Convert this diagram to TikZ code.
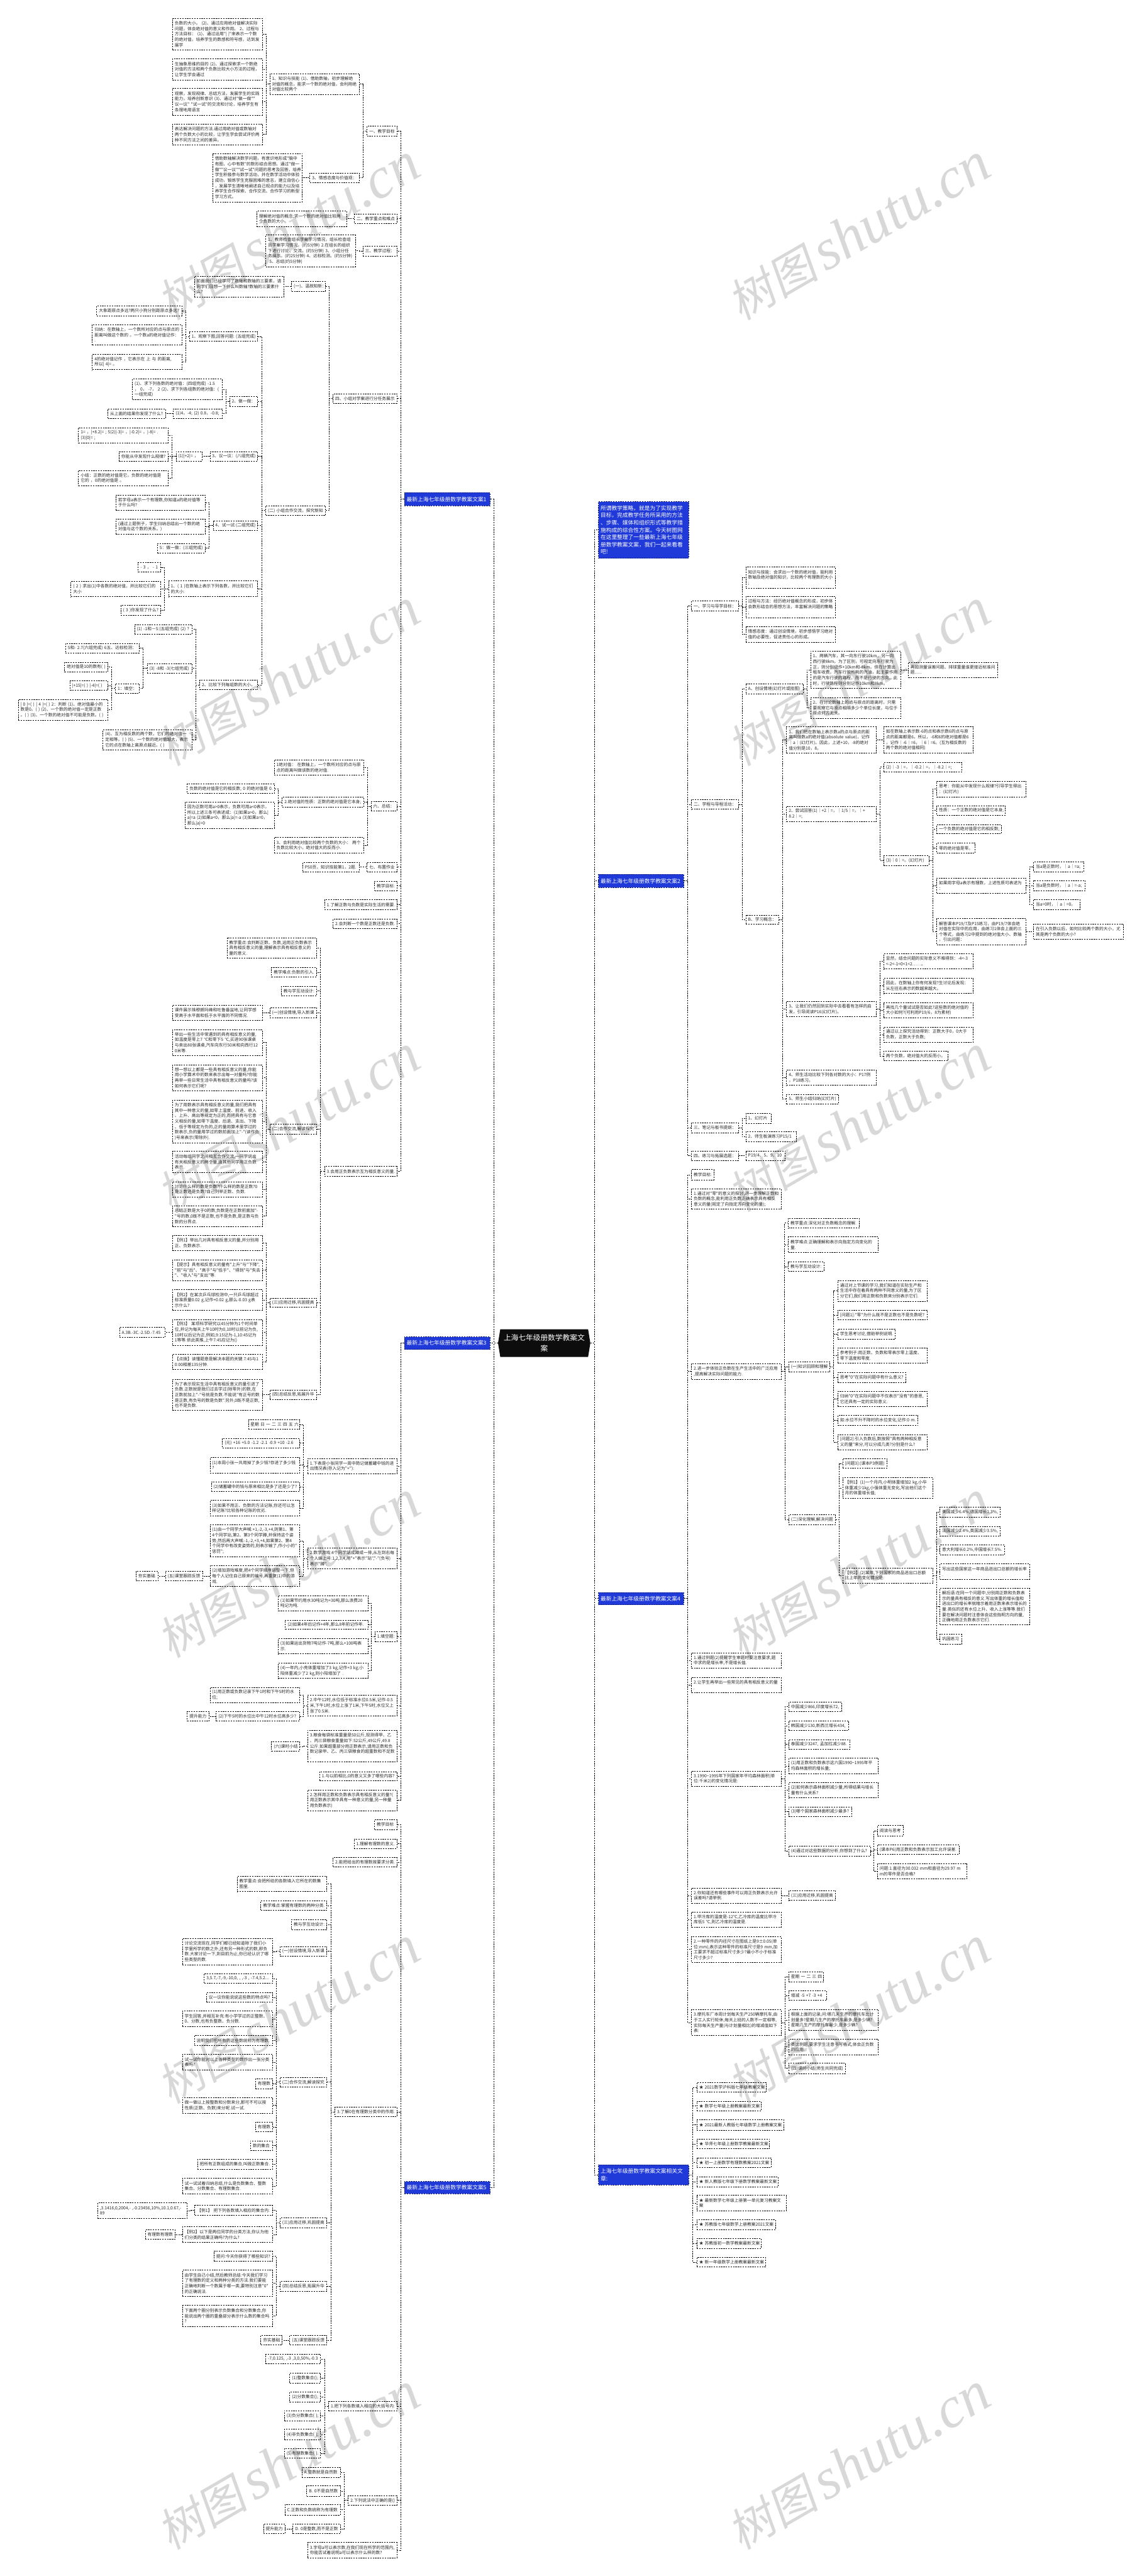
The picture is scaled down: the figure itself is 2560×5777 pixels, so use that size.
\documentclass[tikz,border=0pt]{standalone}
\usepackage{fontspec}
\usetikzlibrary{calc}
\setmainfont{Noto Sans CJK SC}[Ligatures=TeXOff]
\newfontfamily\wmcjk[FakeSlant=0.18]{Noto Sans CJK SC}
\newfontfamily\wmlat{Liberation Serif}
\definecolor{nodeblue}{HTML}{203AD9}
\definecolor{nodeedge}{HTML}{141F7A}
\definecolor{inkc}{HTML}{262626}
\definecolor{wmgray}{HTML}{D8D8D8}
\newcommand{\smallfnt}{\fontsize{9.5}{12.2}\selectfont}
\newcommand{\bluefnt}{\fontsize{12.3}{16.4}\selectfont}
\newcommand{\rootfnt}{\fontsize{16.5}{23}\selectfont}
\tikzset{
  bxs/.style={draw=black,line width=1.1pt,dash pattern=on 3.2pt off 2.2pt,text=inkc,inner xsep=5pt,inner ysep=0pt,align=left,font=\smallfnt},
  bluebx/.style={fill=nodeblue,draw=nodeedge,line width=1.1pt,dash pattern=on 3.2pt off 2.2pt,text=white,inner xsep=5pt,inner ysep=0pt,align=left,font=\bluefnt},
  cnline/.style={draw=black,line width=1.1pt,dash pattern=on 3.2pt off 2.2pt},
  rootlabel/.style={text=white,align=center,inner sep=0pt,font=\rootfnt},
  wmark/.style={text=wmgray,rotate=30,inner sep=0pt,anchor=center}
}
\newcommand{\bxgeom}[4]{%
  \pgfmathsetmacro\bxcx{(#1+#3)/2}\pgfmathsetmacro\bxcy{(#2+#4)/2}%
  \pgfmathsetmacro\bxw{#3-#1}\pgfmathsetmacro\bxh{#4-#2}%
  \pgfmathsetmacro\bxt{#3-#1-10}}
% left side box: name, parent, x1,y1,x2,y2, text
\newcommand{\bl}[7]{\bxgeom{#3}{#4}{#5}{#6}%
  \node[bxs,minimum width=\bxw pt,minimum height=\bxh pt,text width=\bxt pt] (#1) at (\bxcx,\bxcy) {#7};
  \draw[cnline] (#2.west) -- ($(#2.west)!.5!(#2.west -| #1.east)$) |- (#1.east);}
% right side box
\newcommand{\br}[7]{\bxgeom{#3}{#4}{#5}{#6}%
  \node[bxs,minimum width=\bxw pt,minimum height=\bxh pt,text width=\bxt pt] (#1) at (\bxcx,\bxcy) {#7};
  \draw[cnline] (#2.east) -- ($(#2.east)!.5!(#2.east -| #1.west)$) |- (#1.west);}
\newcommand{\blb}[6]{\bxgeom{#2}{#3}{#4}{#5}%
  \node[bluebx,minimum width=\bxw pt,minimum height=\bxh pt,text width=\bxt pt] (#1) at (\bxcx,\bxcy) {#6};
  \draw[cnline] (root.west) -- ($(root.west)!.5!(root.west -| #1.east)$) |- (#1.east);}
\newcommand{\brb}[6]{\bxgeom{#2}{#3}{#4}{#5}%
  \node[bluebx,minimum width=\bxw pt,minimum height=\bxh pt,text width=\bxt pt] (#1) at (\bxcx,\bxcy) {#6};
  \draw[cnline] (root.east) -- ($(root.east)!.5!(root.east -| #1.west)$) |- (#1.west);}
\hyphenpenalty=10000
\exhyphenpenalty=10000
\begin{document}
\begin{tikzpicture}[x=1pt,y=-1pt]
\useasboundingbox (0,0) rectangle (2560,5777);
% watermark tiles
\foreach \wx/\wn in {646/a,1926/b}{\foreach \wy/\wk in {520/1,1520/2,2520/3,3520/4,4520/5,5520/6}{
  \node[wmark] (wm\wn\wk) at (\wx,\wy) {\fontsize{102}{120}\selectfont\wmcjk 树图\hspace{15pt}\fontsize{130}{140}\selectfont\wmlat\itshape shutu.cn};
}}
% root
\fill[black!95] (1117,3012)--(1122,2981)--(1319,2981)--(1324,3012)--(1319,3043)--(1122,3043)--cycle;
\node[rootlabel,minimum width=207pt,minimum height=62pt] (root) at (1220.5,3012) {上海七年级册数学教案文\\案};

% ===== LEFT: 文案1
\blb{c1}{907}{1105}{1099}{1134}{最新上海七年级册数学教案文案1}
\bl{a1}{c1}{823}{283}{890}{305}{一、教学目标}
\bl{a11}{a1}{605}{165}{806}{212}{1、知识与技能~(1)、借助数轴，初步理解绝\\对值的概念，能求一个数的绝对值，会利用绝\\对值比较两个}
\bl{a111}{a11}{387}{41}{588}{112}{负数的大小。~(2)、通过应用绝对值解决实际\\问题，体会绝对值的意义和作用。~2、过程与\\方法目标：~(1)、通过运用"|~|"来表示一个数\\的绝对值，培养学生的数感和符号感，达到发\\展学}
\bl{a112}{a11}{387}{132}{588}{179}{生抽象思维的目的~(2)、通过探索求一个数绝\\对值的方法和两个负数比较大小方法的过程，\\让学生学会通过}
\bl{a113}{a11}{387}{198}{588}{258}{观察，发现规律、总结方法，发展学生的实践\\能力，培养创新意识~(3)、通过对"做一做""\\议一议"~"试一试"的交流和讨论，培养学生有\\条理地用语言}
\bl{a114}{a11}{387}{278}{588}{325}{表达解决问题的方法.通过用绝对值或数轴对\\两个负数大小的比较，让学生学会尝试评价两\\种不同方法之间的差异。}
\bl{a12}{a1}{695}{388}{806}{409}{3、情感态度与价值观：}
\bl{a121}{a12}{477}{344}{678}{453}{借助数轴解决数学问题，有意识地形成"脑中\\有图，心中有数"的数形结合思想。通过"做一\\做""议一议""试一试"问题的思考及回答，培养\\学生积极参与数学活动，并在数学活动中体验\\成功，锻炼学生克服困难的意志，建立自信心\\，发展学生清晰地阐述自己观点的能力以及培\\养学生合作探索、合作交流、合作学习的新型\\学习方式。}
\bl{a2}{c1}{795}{480}{890}{501}{二、教学重点和难点}
\bl{a21}{a2}{576}{473}{777}{508}{理解绝对值的概念;求一个数的绝对值比较两\\个负数的大小。}
\bl{a3}{c1}{814}{552}{890}{574}{三、教学过程：}
\bl{a31}{a3}{596}{527}{797}{598}{1、教师检查组长学案学习情况，组长检查组\\员学案学习情况。(约5分钟)~2.在组长的组织\\下进行讨论、交流。(约5分钟)~3、小组分任\\务展示。(约25分钟)~4、达标检测。(约5分钟)\\~5、总结(约5分钟)}
\bl{a4}{c1}{747}{883}{890}{904}{四、小组对学案进行分任务展示}
\bl{a41}{a4}{654}{631}{730}{653}{(一)、温故知新：}
\bl{a411}{a41}{436}{619}{636}{666}{前面我们已经学习了数轴和数轴的三要素，请\\同学们回想一下什么叫数轴?数轴的三要素什\\么?}
\bl{a42}{a4}{596}{1134}{730}{1156}{(二)~小组合作交流，探究新知}
\bl{b1}{a42}{425}{744}{578}{765}{1、观察下图,回答问题:~(五组完成)}
\bl{b11}{b1}{217}{686}{408}{708}{大象距原点多远?两只小狗分别距原点多远?}
\bl{b12}{b1}{207}{728}{408}{774}{归纳：在数轴上，一个数所对应的点与原点的\\距离叫做这个数的~。一个数a的绝对值记作：\\.}
\bl{b13}{b1}{207}{795}{408}{829}{4的绝对值记作~，它表示在~上~与~的距离,\\所以|~4|=~。}
\bl{b2}{a42}{515}{889}{578}{911}{2、做一做：}
\bl{b21}{b2}{297}{850}{498}{896}{(1)、求下列各数的绝对值：(四组完成)~-1.5\\，~0，~-7，~2~(2)、求下列各组数的绝对值：(\\一组完成)}
\bl{b22}{b2}{389}{917}{498}{938}{(1)4，-4;~(2)~0.8，-0.8;}
\bl{b221}{b22}{242}{917}{371}{938}{从上面的结果你发现了什么?}
\bl{b3}{a42}{471}{1013}{578}{1034}{3、议一议：(八组完成)}
\bl{b31}{b3}{395}{1013}{453}{1034}{(1)|+2|=~，}
\bl{b311}{b31}{176}{959}{377}{993}{1=~，|+8.2|=~;~5(2)|-3|=~，|-0.2|=~，|-8|=~.\\(3)|0|=~;}
\bl{b312}{b31}{267}{1013}{377}{1034}{你能从中发现什么规律?}
\bl{b313}{b31}{176}{1055}{377}{1089}{小结：正数的绝对值是它，负数的绝对值是\\它的~，0的绝对值是~。}
\bl{b4}{a42}{478}{1168}{578}{1189}{4、试一试:(二组完成)}
\bl{b41}{b4}{260}{1110}{460}{1144}{若字母a表示一个有理数,你知道a的绝对值等\\于什么吗?}
\bl{b42}{b4}{260}{1164}{460}{1198}{(通过上题例子，学生归纳总结出一个数的绝\\对值与这个数的关系。)}
\bl{b43}{b4}{353}{1219}{460}{1240}{5：做一做：(三组完成)}
\bl{b5}{a42}{378}{1303}{578}{1338}{1、(~1~)在数轴上表示下列各数，并比较它们\\的大小:}
\bl{b51}{b5}{310}{1262}{360}{1283}{-~3~，~-~1}
\bl{b52}{b5}{159}{1304}{360}{1338}{(~2~)~求出(1)中各数的绝对值，并比较它们的\\大小}
\bl{b53}{b5}{271}{1358}{360}{1380}{(~3~)你发现了什么?}
\bl{b6}{a42}{448}{1525}{578}{1547}{2、比较下列每组数的大小。}
\bl{b61}{b6}{302}{1401}{431}{1422}{(1)~-1和－5:(五组完成)~(2)~?}
\bl{b62}{b6}{330}{1488}{431}{1510}{(3)~-8和~-3(七组完成)}
\bl{b621}{b62}{147}{1443}{312}{1464}{5和-~2.7(六组完成)~6五、达标检测：}
\bl{b622}{b62}{259}{1533}{312}{1555}{1：填空：}
\bl{b6221}{b622}{145}{1485}{242}{1507}{绝对值是10的数有(~)}
\bl{b6222}{b622}{157}{1527}{242}{1548}{|+15|=(~)~|-4|=(~)}
\bl{b6223}{b622}{41}{1569}{242}{1615}{|~0~|=(~)~|~4~|=(~)~2：判断~(1)、绝对值最小的\\数是0。(~)~(2)、一个数的绝对值一定是正数\\。(~)~(3)、一个数的绝对值不可能是负数。(~)}
\bl{b63}{b6}{231}{1636}{431}{1682}{(4)、互为相反数的两个数，它们的绝对值一\\定相等。(~)~(5)、一个数的绝对值越大，表示\\它的点在数轴上离原点越近。(~)}
\bl{a6}{c1}{832}{1797}{890}{1819}{六、总结：}
\bl{a61}{a6}{615}{1704}{816}{1738}{1绝对值：~在数轴上，一个数所对应的点与原\\点的距离叫做该数的绝对值.}
\bl{a62}{a6}{633}{1788}{816}{1810}{2.绝对值的性质：正数的绝对值是它本身;}
\bl{a621}{a62}{420}{1758}{615}{1779}{负数的绝对值是它的相反数;~0~的绝对值是~0.}
\bl{a622}{a62}{415}{1799}{615}{1858}{因为正数可用a>0表示，负数可用a<0表示，\\所以上述三条可表述成：(1)如果a>0，那么|\\a|=a~(2)如果a<0，那么|a|=-a~(3)如果a=0，\\那么|a|=0}
\bl{a63}{a6}{615}{1878}{816}{1913}{3、会利用绝对值比较两个负数的大小：~两个\\负数比较大小，绝对值大的反而小.}
\bl{a7}{c1}{823}{1934}{890}{1955}{七、布置作业}
\bl{a71}{a7}{679}{1934}{806}{1955}{P50页，知识技能第1，2题.}
\bl{a8}{c1}{840}{1976}{890}{1997}{教学目标:}
\bl{a9}{c1}{728}{2018}{890}{2040}{1.了解正数与负数是实际生活的需要.}
\bl{a10}{c1}{747}{2061}{890}{2082}{2.会判断一个数是正数还是负数.}
\bl{d}{c1}{728}{2616}{890}{2638}{3.会用正负数表示互为相反意义的量.}
\bl{d1}{d}{509}{2103}{710}{2149}{教学重点:会判断正数、负数,运用正负数表示\\具有相反意义的量,理解表示具有相反意义的\\量的意义.}
\bl{d2}{d}{609}{2170}{710}{2191}{教学难点:负数的引入.}
\bl{d3}{d}{631}{2212}{710}{2233}{教与学互动设计:}
\bl{d4}{d}{605}{2260}{710}{2282}{(一)创设情境,导入新课}
\bl{d41}{d4}{387}{2254}{588}{2288}{课件展示珠穆朗玛峰和吐鲁番盆地,让同学感\\受高于水平面和低于水平面的不同情况.}
\bl{d5}{d}{605}{2521}{710}{2543}{(二)合作交流,解读探究}
\bl{d51}{d5}{387}{2309}{588}{2367}{举出一些生活中常遇到的具有相反意义的量,\\如温度是零上7~℃和零下5~℃,买进90张课桌\\与卖出80张课桌,汽车向东行50米和向西行12\\0米等.}
\bl{d52}{d5}{387}{2388}{588}{2446}{想一想以上都是一些具有相反意义的量,你能\\用小学算术中的数来表示出每一对量吗?你能\\再举一些日常生活中具有相反意义的量吗?该\\如何表示它们呢?}
\bl{d53}{d5}{387}{2467}{588}{2563}{为了用数表示具有相反意义的量,我们把具有\\其中一种意义的量,如零上温度、前进、收入\\、上升、高出等规定为正的,而把具有与它意\\义相反的量,如零下温度、后退、支出、下降\\、低于等规定为负的,正的量用算术里学过的\\数表示,负的量用学过的数前面加上"-"(读作负\\)号来表示(零除外).}
\bl{d54}{d5}{387}{2582}{588}{2630}{活动每组同学之间相互合作交流,一同学说出\\有关相反意义的两个量,由其他同学用正负数\\表示.}
\bl{d55}{d5}{387}{2650}{588}{2684}{讨论什么样的数是负数?什么样的数是正数?0\\是正数还是负数?自己列举正数、负数.}
\bl{d56}{d5}{387}{2704}{588}{2751}{总结正数是大于0的数,负数是在正数前面加"-\\"号的数,0既不是正数,也不是负数,是正数与负\\数的分界点.}
\bl{d6}{d}{605}{2911}{710}{2932}{(三)应用迁移,巩固提高}
\bl{d61}{d6}{387}{2770}{588}{2805}{【例1】举出几对具有相反意义的量,并分别用\\正、负数表示.}
\bl{d62}{d6}{387}{2825}{588}{2872}{【提示】具有相反意义的量有"上升"与"下降",\\"前"与"后"、"高于"与"低于"、"得到"与"失去\\"、"收入"与"支出"等.}
\bl{d63}{d6}{387}{2892}{588}{2939}{【例2】在某次乒乓球检测中,一只乒乓球超过\\标准质量0.02~g,记作+0.02~g,那么-0.03~g表\\示什么?}
\bl{d64}{d6}{387}{2959}{588}{3017}{【例3】~某项科学研究以45分钟为1个时间单\\位,并记为每天上午10时为0,10时以前记为负,\\10时以后记为正,例如,9:15记为-1,10:45记为\\1等等.依此类推,上午7:45应记为()}
\bl{d641}{d64}{268}{2977}{370}{2999}{A.3B.-3C.-2.5D.-7.45}
\bl{d65}{d6}{387}{3037}{588}{3071}{【点拨】读懂题意是解决本题的关键.7:45与1\\0:00相差135分钟.}
\bl{d7}{d}{605}{3117}{710}{3138}{(四)总结反思,拓展升华}
\bl{d71}{d7}{387}{3093}{588}{3163}{为了表示现实生活中具有相反意义的量引进了\\负数.正数就是我们过去学过(除零外)的数,在\\正数前加上"-"号就是负数.不能说"有正号的数\\是正数,有负号的数是负数".另外,0既不是正数,\\也不是负数.}

% ===== LEFT: 文案3
\blb{c3}{907}{2998}{1099}{3026}{最新上海七年级册数学教案文案3}
\bl{e1}{c3}{690}{3271}{890}{3305}{1.下表是小张同学一周中简记储蓄罐中钱的进\\出情况表(存入记为"+"):}
\bl{e11}{e1}{557}{3184}{672}{3205}{星期~日~一~二~三~四~五~六}
\bl{e12}{e1}{499}{3226}{672}{3247}{(元)~+16~+5.0~-1.2~-2.1~-0.9~+10~-2.6}
\bl{e13}{e1}{471}{3269}{672}{3303}{(1)本周小张一共用掉了多少钱?存进了多少钱\\?}
\bl{e14}{e1}{474}{3323}{672}{3345}{(2)储蓄罐中的钱与原来相比是多了还是少了?}
\bl{e15}{e1}{471}{3365}{672}{3399}{(3)如果不用正、负数的方法记账,你还可以怎\\样记账?比较各种记账的优劣.}
\bl{e2}{c3}{690}{3472}{890}{3518}{2.数学游戏:4个同学站成蹲成一排,从左到右每\\个人编上号:1,2,3,4,用"+"表示"站","-"(负号)\\表示"蹲".}
\bl{e21}{e2}{471}{3420}{672}{3491}{(1)由一个同学大声喊:+1,-2,-3,+4,则第1、第\\4个同学站,第2、第3个同学蹲,并保持这个姿\\势,然后再大声喊:-1,-2,+3,+4,如果第2、第4\\个同学中有改变姿势的,则表示输了,作小小的"\\惩罚";}
\bl{e22}{e2}{471}{3511}{672}{3558}{(2)增加游戏难度,把4个同学顺序调整一下,但\\每个人记住自己原来的编号,再重复(1)中的游\\戏.}
\bl{e221}{e22}{371}{3524}{454}{3545}{(五)课堂跟踪反馈}
\bl{e2211}{e221}{305}{3524}{354}{3545}{夯实基础}
\bl{e3}{c3}{841}{3659}{890}{3681}{1.填空题:}
\bl{e31}{e3}{624}{3578}{825}{3612}{(1)如果节约用水30吨记为+30吨,那么浪费20\\吨记为吨.}
\bl{e32}{e3}{640}{3633}{825}{3654}{(2)如果4年后记作+4年,那么8年前记作年.}
\bl{e33}{e3}{624}{3675}{825}{3709}{(3)如果运出货物7吨记作-7吨,那么+100吨表\\示.}
\bl{e34}{e3}{624}{3730}{825}{3764}{(4)一年内,小亮体重增加了3~kg,记作+3~kg;小\\阳体重减少了2~kg,则小阳增加了~.}
\bl{e4}{c3}{690}{3802}{890}{3848}{2.中午12时,水位低于标准水位0.5米,记作-0.5\\米,下午1时,水位上涨了1米,下午5时,水位又上\\涨了0.5米.}
\bl{e41}{e4}{471}{3784}{672}{3818}{(1)用正数或负数记录下午1时和下午5时的水\\位;}
\bl{e42}{e4}{485}{3838}{672}{3860}{(2)下午5时的水位比中午12时水位高多少?}
\bl{e421}{e42}{420}{3838}{469}{3860}{提升能力}
\bl{e5}{c3}{690}{3880}{890}{3951}{3.粮食每袋标准重量是50公斤,现测得甲、乙\\、丙三袋粮食重量如下:52公斤,49公斤,49.8\\公斤.如果超重部分用正数表示,请用正数和负\\数记录甲、乙、丙三袋粮食的超重数和不足数\\.}
\bl{e51}{e5}{609}{3906}{672}{3927}{(六)课时小结}
\bl{e6}{c3}{717}{3973}{890}{3994}{1.与以前相比,0的意义又多了哪些内容?}
\bl{e7}{c3}{690}{4014}{890}{4061}{2.怎样用正数和负数表示具有相反意义的量?(\\用正数表示其中具有一种意义的量,另一种量\\用负数表示)}

% ===== LEFT: 文案5
\blb{c5}{907}{4892}{1099}{4920}{最新上海七年级册数学教案文案5}
\bl{f1}{c5}{840}{4081}{890}{4103}{教学目标}
\bl{f2}{c5}{794}{4124}{890}{4145}{1.理解有理数的意义.}
\bl{f3}{c5}{747}{4166}{890}{4187}{2.能把给出的有理数按要求分类.}
\bl{f4}{c5}{751}{4726}{890}{4747}{3.了解0在有理数分类中的作用.}
\bl{f41}{f4}{532}{4208}{733}{4242}{教学重点:会把所给的各数填入它所在的数集\\图里.}
\bl{f42}{f4}{585}{4263}{733}{4284}{教学难点:掌握有理数的两种分类.}
\bl{f43}{f4}{654}{4305}{733}{4327}{教与学互动设计:}
\bl{f44}{f4}{628}{4365}{733}{4387}{(一)创设情境,导入新课}
\bl{f441}{f44}{409}{4347}{611}{4406}{讨论交流现在,同学们都已经知道除了我们小\\学里所学的数之外,还有另一种形式的数,即负\\数.大家讨论一下,到目前为止,你已经认识了哪\\些类型的数.}
\bl{f45}{f4}{628}{4659}{733}{4680}{(二)合作交流,解读探究}
\bl{f451}{f45}{458}{4426}{611}{4448}{3,5.7,-7,-9,-10,0,~,~,-3~,~-7.4,5.2...}
\bl{f452}{f45}{463}{4469}{611}{4490}{议一议你能说说这些数的特点吗?}
\bl{f453}{f45}{409}{4510}{611}{4545}{学生回答,并相互补充:有小学学过的正整数、\\0、分数,也有负整数、负分数.}
\bl{f454}{f45}{436}{4565}{611}{4587}{说明我们把所有的这些数统称为有理数.}
\bl{f455}{f45}{409}{4607}{611}{4642}{试一试你能对以上各种类型的数作出一张分类\\表吗?}
\bl{f456}{f45}{573}{4662}{611}{4684}{有理数}
\bl{f457}{f45}{409}{4704}{611}{4739}{做一做以上按整数和分数来分,那可不可以按\\性质(正数、负数)来分呢.试一试.}
\bl{f458}{f45}{573}{4759}{611}{4781}{有理数}
\bl{f459}{f45}{562}{4801}{611}{4823}{数的集合}
\bl{f4510}{f45}{443}{4843}{611}{4865}{把所有正数组成的集合,叫做正数集合.}
\bl{f4511}{f45}{409}{4885}{611}{4920}{试一试试着归纳总结,什么是负数集合、整数\\集合、分数集合、有理数集合.}
\bl{f46}{f4}{628}{4974}{733}{4996}{(三)应用迁移,巩固提高}
\bl{f461}{f46}{437}{4946}{611}{4968}{【例1】~把下列各数填入相应的集合内:}
\bl{f4611}{f461}{219}{4940}{420}{4975}{,3.1416,0,2004,-~,-0.23456,10\%,10.1,0.67,-\\89}
\bl{f462}{f46}{409}{4994}{611}{5029}{【例2】以下是两位同学的分类方法,你认为他\\们分类的结果正确吗?为什么?}
\bl{f4621}{f462}{326}{5001}{393}{5022}{有理数有理数}
\bl{f47}{f4}{628}{5116}{733}{5138}{(四)总结反思,拓展升华}
\bl{f471}{f47}{480}{5049}{611}{5071}{提问:今天你获得了哪些知识?}
\bl{f472}{f47}{409}{5091}{611}{5150}{由学生自己小结,然后教师总结:今天我们学习\\了有理数的定义和两种分类的方法.我们要能\\正确地判断一个数属于哪一类,要特别注意"0"\\的正确说法.}
\bl{f473}{f47}{409}{5170}{611}{5217}{下面两个圈分别表示负数集合和分数集合,你\\能说出两个圈的重叠部分表示什么数的集合吗\\?}
\bl{f48}{f4}{650}{5237}{733}{5259}{(五)课堂跟踪反馈}
\bl{f481}{f48}{585}{5237}{633}{5259}{夯实基础}
\bl{f5}{c5}{737}{5386}{890}{5407}{1.把下列各数填入相应的大括号内:}
\bl{f51}{f5}{596}{5280}{719}{5301}{-7,0.125,~,-3~,3,0,50\%,-0.3}
\bl{f52}{f5}{650}{5322}{719}{5344}{(1)整数集合();}
\bl{f53}{f5}{650}{5364}{719}{5387}{(2)分数集合();}
\bl{f54}{f5}{638}{5406}{719}{5429}{(3)负分数集合\{~\};}
\bl{f55}{f5}{638}{5448}{719}{5471}{(4)非负数集合\{~\};}
\bl{f56}{f5}{638}{5491}{719}{5513}{(5)有理数集合\{~\}.}
\bl{f6}{c5}{781}{5597}{890}{5618}{2.下列说法中正确的是()}
\bl{f61}{f6}{677}{5533}{763}{5556}{A.整数就是自然数}
\bl{f62}{f6}{688}{5575}{763}{5598}{B.~0不是自然数}
\bl{f63}{f6}{639}{5617}{763}{5640}{C.正数和负数统称为有理数}
\bl{f64}{f6}{657}{5660}{763}{5682}{D.~0是整数,而不是正数}
\bl{f641}{f64}{591}{5660}{639}{5682}{提升能力}
\bl{f7}{c5}{690}{5702}{890}{5736}{3.字母a可以表示数,在我们现在所学的范围内,\\你能否试着说明a可以表示什么样的数?}

% ===== RIGHT: intro
\brb{intro}{1342}{1125}{1545}{1252}{所谓教学策略，就是为了实现教学\\目标，完成教学任务所采用的方法\\、步骤、媒体和组织形式等教学措\\施构成的综合性方案。今天树图网\\在这里整理了一些最新上海七年级\\册数学教案文案，我们一起来看看\\吧!}

% ===== RIGHT: 文案2
\brb{c2}{1342}{1961}{1533}{1990}{最新上海七年级册数学教案文案2}
\br{g1}{c2}{1551}{1348}{1656}{1370}{一、学习与导学目标：}
\br{g11}{g1}{1673}{1272}{1874}{1319}{知识与技能：会求出一个数的绝对值，能利用\\数轴及绝对值的知识，比较两个有理数的大小\\;}
\br{g12}{g1}{1673}{1338}{1874}{1385}{过程与方法：经历绝对值概念的形成，初步体\\会数形结合的思想方法，丰富解决问题的策略\\;}
\br{g13}{g1}{1673}{1405}{1874}{1440}{情感态度：通过创设情境，初步感悟学习绝对\\值的必要性，促进责任心的形成。}
\br{g2}{c2}{1551}{1793}{1656}{1815}{二、学程与导程活动：}
\br{g21}{g2}{1673}{1533}{1801}{1556}{A、创设情境(幻灯片或挂图)}
\br{g211}{g21}{1818}{1460}{2020}{1544}{1、两辆汽车，其一向东行驶10km，另一向\\西行驶8km。为了区别，可规定向东行驶为\\正，则分别记作+10km和-8km。但在计算出\\租车收费，汽车行驶所耗的汽油，起主要作用\\的是汽车行驶的路程，而不是行驶的方向。此\\时，行驶路程则分别记作10km和8km。}
\br{g2111}{g211}{2037}{1485}{2238}{1519}{再如测量误差问题、排球重量谁更接近标准问\\题......}
\br{g212}{g21}{1818}{1564}{2020}{1611}{2、在讨论数轴上的点与原点的距离时，只需\\要观察它与原点相隔多少个单位长度，与位于\\原点何方无关。}
\br{g22}{g2}{1673}{2052}{1746}{2073}{B、学习概念：}
\br{g221}{g22}{1764}{1630}{1965}{1689}{1、我们把在数轴上表示数a的点与原点的距\\离叫做数a的绝对值(absolute~value)，记作\\｜a｜(幻灯片)。因此，上述+10，-8的绝对\\值分别是10，8。}
\br{g2211}{g221}{1982}{1630}{2183}{1689}{如在数轴上表示数-6的点和表示数6的点与原\\点的距离都是6，所以，-6和6的绝对值都是6\\，记作｜-6｜=6，｜6｜=6。(互为相反数的\\两个数的绝对值相同)}
\br{g222}{g22}{1764}{1808}{1965}{1842}{2、尝试回答(1)｜+2｜=，｜1/5｜=，｜+\\8.2｜=;}
\br{g2221}{g222}{1982}{1710}{2157}{1731}{(2)｜-3｜=，｜-0.2｜=，｜-8.2｜=;}
\br{g2222}{g222}{1982}{1919}{2083}{1941}{(3)｜0｜=。(幻灯片)}
\br{h1}{g2222}{2101}{1752}{2301}{1787}{思考：你能从中发现什么规律?引导学生得出\\：(幻灯片)}
\br{h2}{g2222}{2101}{1807}{2255}{1828}{性质：一个正数的绝对值是它本身;}
\br{h3}{g2222}{2101}{1849}{2246}{1870}{一个负数的绝对值是它的相反数;}
\br{h4}{g2222}{2101}{1891}{2187}{1913}{零的绝对值是零。}
\br{h5}{g2222}{2101}{1969}{2301}{2003}{如果用字母a表示有理数，上述性质可表述为\\：}
\br{h51}{h5}{2318}{1933}{2431}{1955}{当a是正数时，｜a｜=a;}
\br{h52}{h5}{2318}{1975}{2434}{1997}{当a是负数时，｜a｜=-a;}
\br{h53}{h5}{2318}{2017}{2422}{2040}{当a=0时，｜a｜=0。}
\br{h6}{g2222}{2101}{2060}{2301}{2119}{解答课本P19/7及P15练习，由P19/7体会绝\\对值在实际中的应用，由练习1体会上面的三\\个等式，由练习2中提到的绝对值大小、数轴\\，引出问题：}
\br{h61}{h6}{2318}{2072}{2520}{2106}{在引入负数以后，如何比较两个数的大小，尤\\其是两个负数的大小?}
\br{g223}{g22}{1764}{2246}{1965}{2280}{3、让我们仍然回到实际中去看看有怎样的启\\发，引导阅读P16(幻灯片)。}
\br{i1}{g223}{1982}{2139}{2183}{2173}{显然，结合问题的实际意义不难得到：-4<-3\\<-2<-1<0<1<2……。}
\br{i2}{g223}{1982}{2194}{2183}{2228}{因此，在数轴上你有何发现?生讨论后发现：\\从左往右表示的数越来越大。}
\br{i3}{g223}{1982}{2249}{2183}{2282}{再找几个量试试是否如此?这些数的绝对值的\\大小如何?(可利用P19/6，8为素材)}
\br{i4}{g223}{1982}{2303}{2183}{2337}{通过以上探究活动得到：正数大于0，0大于\\负数，正数大于负数;}
\br{i5}{g223}{1982}{2358}{2126}{2379}{两个负数，绝对值大的反而小。}
\br{g224}{g22}{1764}{2400}{1965}{2434}{4、师生活动比较下列各对数的大小：P17例\\，P18练习。}
\br{g225}{g22}{1764}{2454}{1881}{2476}{5、师生小结归纳(幻灯片)}
\br{g3}{c2}{1551}{2518}{1656}{2540}{三、笔记与板书提纲：}
\br{g31}{g3}{1673}{2497}{1730}{2519}{1、幻灯片}
\br{g32}{g3}{1673}{2538}{1786}{2561}{2、师生板演练习P15/1}
\br{g4}{c2}{1551}{2581}{1656}{2603}{四、练习与拓展选题：}
\br{g41}{g4}{1673}{2581}{1761}{2603}{P19/4、5、9、10}

% ===== RIGHT: 文案4
\brb{c4}{1342}{3571}{1533}{3599}{最新上海七年级册数学教案文案4}
\br{j1}{c4}{1551}{2623}{1601}{2646}{教学目标:}
\br{j2}{c4}{1551}{2666}{1752}{2712}{1.通过对"零"的意义的探讨,进一步理解正数和\\负数的概念,能利用正负数正确表示具有相反\\意义的量(规定了向指定方向变化的量);}
\br{j3}{c4}{1551}{3058}{1752}{3093}{2.进一步体验正负数在生产生活中的广泛应用\\,提高解决实际问题的能力.}
\br{j31}{j3}{1768}{2732}{1927}{2754}{教学重点:深化对正负数概念的理解.}
\br{j32}{j3}{1768}{2774}{1970}{2809}{教学难点:正确理解和表示向指定方向变化的\\量.}
\br{j33}{j3}{1768}{2830}{1848}{2851}{教与学互动设计:}
\br{j34}{j3}{1769}{3054}{1861}{3076}{(一)知识回顾和理解}
\br{k1}{j34}{1879}{2872}{2079}{2918}{通过对上节课的学习,我们知道在实际生产和\\生活中存在着具有两种不同意义的量,为了区\\分它们,我们用正数和负数来分别表示它们.}
\br{k2}{j34}{1879}{2938}{2079}{2960}{[问题1]:"零"为什么既不是正数也不是负数呢?}
\br{k3}{j34}{1879}{2981}{2008}{3003}{学生思考讨论,借助举例说明.}
\br{k4}{j34}{1879}{3023}{2079}{3057}{参考例子:用正数、负数和零表示零上温度、\\零下温度和零度.}
\br{k5}{j34}{1879}{3078}{2031}{3100}{思考"0"在实际问题中有什么意义?}
\br{k6}{j34}{1879}{3120}{2079}{3154}{归纳"0"在实际问题中不仅表示"没有"的意思,\\它还具有一定的实际意义.}
\br{k7}{j34}{1879}{3174}{2059}{3197}{如:水位不升不降时的水位变化,记作:0~m.}
\br{k8}{j34}{1879}{3217}{2079}{3251}{[问题2]:引入负数后,数按照"具有两种相反意\\义的量"来分,可以分成几类?分别是什么?}
\br{j35}{j3}{1769}{3397}{1874}{3419}{(二)深化理解,解决问题}
\br{l1}{j35}{1890}{3271}{1989}{3293}{[问题3]:(课本P3例题)}
\br{l2}{j35}{1890}{3314}{2092}{3360}{【例1】(1)一个月内,小明体重增加2~kg,小华\\体重减少1kg,小强体重无变化,写出他们这个\\月的体重增长值;}
\br{l3}{j35}{1890}{3516}{2092}{3550}{【例2】(2)某年,下列国家的商品进出口总额\\比上年的变化情况是:}
\br{l31}{l3}{2108}{3380}{2243}{3403}{美国减少6.4\%,德国增长1.3\%,}
\br{l32}{l3}{2108}{3423}{2243}{3445}{法国减少2.4\%,英国减少3.5\%,}
\br{l33}{l3}{2108}{3465}{2253}{3487}{意大利增长0.2\%,中国增长7.5\%.}
\br{l34}{l3}{2108}{3507}{2309}{3542}{写出这些国家这一年商品进出口总额的增长率\\.}
\br{l35}{l3}{2108}{3562}{2309}{3644}{解后语:在同一个问题中,分别用正数和负数表\\示的量具有相反的意义.写出体重的增长值和\\进出口的增长率就暗示着用正数来表示增长的\\量.类似的还有水位上升、收入上涨等等.我们\\要在解决问题时注意体会这些指明方向的量,\\正确地用正负数表示它们.}
\br{l36}{l3}{2108}{3665}{2157}{3687}{巩固练习}
\br{j4}{c4}{1551}{3707}{1752}{3741}{1.通过例题(2)提醒学生审题时要注意要求,题\\中求的是增长率,不是增长值.}
\br{j5}{c4}{1551}{3762}{1752}{3796}{2.让学生再举出一些常见的具有相反意义的量\\.}
\br{j6}{c4}{1551}{3972}{1752}{4006}{3.1990\textasciitilde 1995年下列国家年平均森林面积(单\\位:千米2)的变化情况是:}
\br{m1}{j6}{1769}{3817}{1888}{3838}{中国减少866,印度增长72,}
\br{m2}{j6}{1769}{3859}{1903}{3881}{韩国减少130,新西兰增长434,}
\br{m3}{j6}{1769}{3901}{1906}{3923}{泰国减少3247,~孟加拉减少88.}
\br{m4}{j6}{1769}{3943}{1970}{3978}{(1)用正数和负数表示这六国1990\textasciitilde 1995年平\\均森林面积的增长量;}
\br{m5}{j6}{1769}{3998}{1970}{4032}{(2)如何表示森林面积减少量,所得结果与增长\\量有什么关系?}
\br{m6}{j6}{1769}{4052}{1910}{4074}{(3)哪个国家森林面积减少最多?}
\br{m7}{j6}{1769}{4140}{1952}{4162}{(4)通过对这些数据的分析,你想到了什么?}
\br{m71}{m7}{1968}{4094}{2026}{4117}{阅读与思考}
\br{m72}{m7}{1968}{4137}{2151}{4159}{(课本P6)用正数和负数表示加工允许误差.}
\br{m73}{m7}{1968}{4179}{2169}{4214}{问题:1.直径为30.032~mm和直径为29.97~m\\m的零件是否合格?}
\br{j7}{c4}{1551}{4234}{1752}{4268}{2.你知道还有哪些事件可以用正负数表示允许\\误差吗?请举例.}
\br{j71}{j7}{1769}{4240}{1874}{4262}{(三)应用迁移,巩固提高}
\br{j8}{c4}{1551}{4288}{1752}{4322}{1.甲冷库的温度是-12℃,乙冷库的温度比甲冷\\库低5~℃,则乙冷库的温度是.}
\br{j9}{c4}{1551}{4343}{1752}{4401}{2.一种零件的内径尺寸在图纸上是9±0.05(单\\位:mm),表示这种零件的标准尺寸是9~mm,加\\工要求不超过标准尺寸多少?最小不小于标准\\尺寸多少?}
\br{j10}{c4}{1551}{4507}{1752}{4565}{3.摩托车厂本周计划每天生产250辆摩托车,由\\于工人实行轮休,每天上班的人数不一定相等,\\实际每天生产量(与计划量相比)的增减值如下\\表:}
\br{n1}{j10}{1769}{4422}{1847}{4445}{星期~一~二~三~四}
\br{n2}{j10}{1769}{4465}{1854}{4486}{增减~-5~+7~-3~+4}
\br{n3}{j10}{1769}{4507}{1970}{4553}{根据上面的记录,问:哪几天生产的摩托车比计\\划量多?星期几生产的摩托车最多,是多少辆?\\星期几生产的摩托车最少,是多少辆?}
\br{n4}{j10}{1769}{4573}{1970}{4608}{类比例题,要求学生注意书写格式,体会正负数\\的应用.}
\br{n5}{j10}{1769}{4627}{1896}{4650}{(四)课时小结(师生共同完成)}

% ===== RIGHT: 相关文章
\brb{rel}{1342}{4855}{1545}{4900}{上海七年级册数学教案文案相关文\\章:}
\br{r1}{rel}{1563}{4670}{1719}{4692}{★~2021数学沪科版七年级教案文案}
\br{r2}{rel}{1563}{4712}{1707}{4734}{★~数学七年级上册教案最新文案}
\br{r3}{rel}{1563}{4754}{1758}{4777}{★~2021最新人教版七年级数学上册教案文案}
\br{r4}{rel}{1563}{4797}{1726}{4819}{★~华师七年级上册数学教案最新文案}
\br{r5}{rel}{1563}{4839}{1730}{4861}{★~初一上册数学有理数教案2021文案}
\br{r6}{rel}{1563}{4882}{1745}{4904}{★~新人教版七年级下册数学教案最新文案}
\br{r7}{rel}{1563}{4923}{1763}{4958}{★~最新数学七年级上册第一单元复习教案文\\案}
\br{r8}{rel}{1563}{4978}{1739}{5000}{★~苏教版七年级数学上册教案2021文案}
\br{r9}{rel}{1563}{5020}{1707}{5042}{★~苏教版初一数学教案最新文案}
\br{r10}{rel}{1563}{5063}{1717}{5084}{★~新一年级数学上册教案最新文案}
\end{tikzpicture}
\end{document}
